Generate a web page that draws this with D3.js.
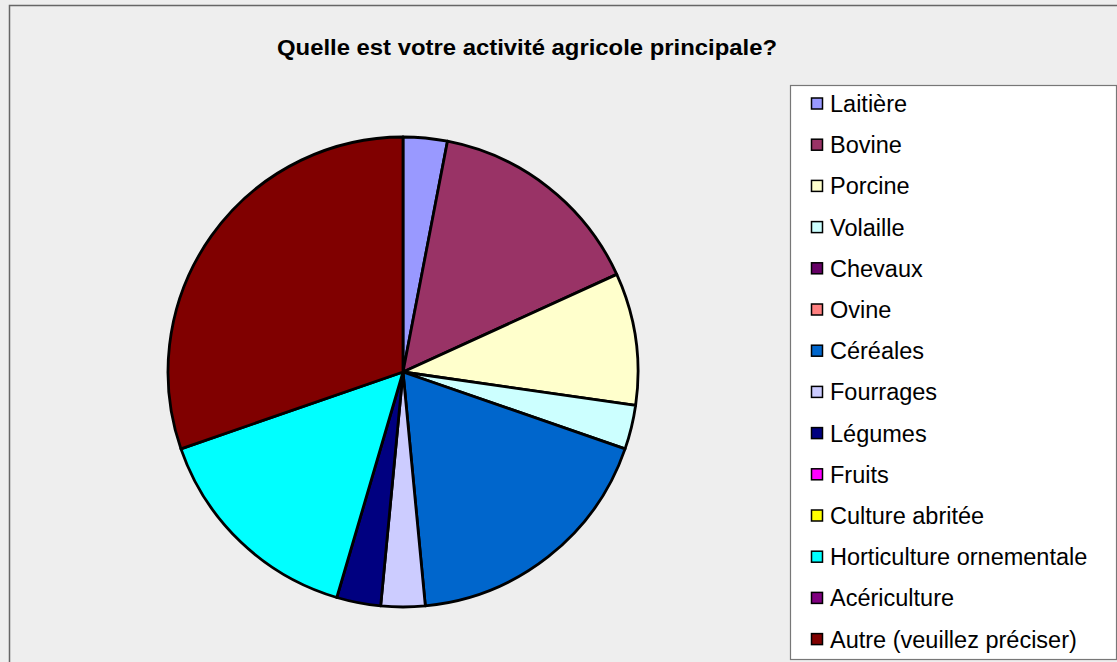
<!DOCTYPE html>
<html>
<head>
<meta charset="utf-8">
<script src="https://cdn.jsdelivr.net/npm/d3@7"></script>
<style>
  html, body { margin: 0; padding: 0; background: #eeeeee; }
  svg { display: block; font-family: 'Liberation Sans', Arial, sans-serif; }
</style>
</head>
<body>
<svg id="chart" width="1117" height="662"></svg>
<script>
'use strict';

var title = 'Quelle est votre activité agricole principale?';
var categories = ['Laitière', 'Bovine', 'Porcine', 'Volaille', 'Chevaux', 'Ovine', 'Céréales',
  'Fourrages', 'Légumes', 'Fruits', 'Culture abritée', 'Horticulture ornementale',
  'Acériculture', 'Autre (veuillez préciser)'];
var values = [1, 5, 3, 1, 0, 0, 6, 1, 1, 0, 0, 5, 0, 10];
var colors = ['#9999ff', '#993366', '#ffffcc', '#ccffff', '#660066', '#ff8080', '#0066cc',
  '#ccccff', '#000080', '#ff00ff', '#ffff00', '#00ffff', '#800080', '#800000'];

var width = 1117;
var height = 662;
var cx = 403;
var cy = 372;
var radius = 235;

var legendX = 790;
var legendY = 85;
var legendW = 326;
var legendH = 574;
var rowStart = 104;
var rowStep = 41.2;

var svg = d3.select('#chart');

// fond et cadre
svg.append('rect')
  .attr('x', 9.5).attr('y', 5.5)
  .attr('width', width + 20).attr('height', height + 20)
  .attr('fill', '#eeeeee').attr('stroke', '#666666').attr('stroke-width', 1.5);

svg.append('text')
  .attr('x', 527).attr('y', 55)
  .attr('text-anchor', 'middle')
  .attr('font-size', 22)
  .attr('font-weight', 'bold')
  .attr('textLength', 500)
  .attr('lengthAdjust', 'spacingAndGlyphs')
  .attr('fill', '#000')
  .text(title);

var data = categories.map(function (c, i) {
  return { name: c, value: values[i], color: colors[i] };
});

var pie = d3.pie().sort(null).value(function (d) { return d.value; });
var arc = d3.arc().innerRadius(0).outerRadius(radius);

svg.append('g')
  .attr('transform', 'translate(' + cx + ',' + cy + ')')
  .selectAll('path')
  .data(pie(data).filter(function (d) { return d.value > 0; }))
  .enter().append('path')
  .attr('d', arc)
  .attr('fill', function (d) { return d.data.color; })
  .attr('stroke', '#000')
  .attr('stroke-width', 2.8)
  .attr('stroke-linejoin', 'round');

// légende
svg.append('rect')
  .attr('x', legendX + 0.5).attr('y', legendY + 0.5)
  .attr('width', legendW).attr('height', legendH)
  .attr('fill', '#ffffff').attr('stroke', '#777777').attr('stroke-width', 1.2);

var rows = svg.append('g').selectAll('g')
  .data(data)
  .enter().append('g')
  .attr('transform', function (d, i) {
    return 'translate(' + (legendX + 21) + ',' + (rowStart + i * rowStep) + ')';
  });

rows.append('rect')
  .attr('x', 0.5).attr('y', -6)
  .attr('width', 11).attr('height', 11)
  .attr('fill', function (d) { return d.color; })
  .attr('stroke', '#000').attr('stroke-width', 1.5);

rows.append('text')
  .attr('x', 19).attr('y', 8)
  .attr('font-size', 23.5)
  .attr('fill', '#000')
  .text(function (d) { return d.name; });
</script>
</body>
</html>
